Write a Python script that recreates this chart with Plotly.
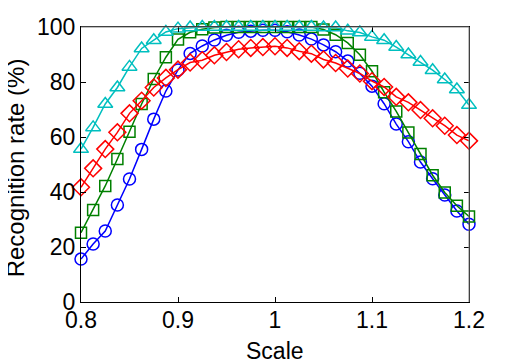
import plotly.graph_objects as go

scale = [round(0.8 + 0.0125 * k, 4) for k in range(33)]

blue = [15.6, 21.1, 25.8, 35.3, 44.7, 55.5, 66.5, 76.7, 84.4, 90.4, 93.1, 95.3, 97.0,
        98.1, 98.5, 98.8, 98.8, 98.3, 97.1, 95.6, 93.5, 91.0, 87.6, 83.2, 78.5, 72.1,
        64.7, 58.3, 50.9, 44.8, 38.9, 33.1, 28.3]
green = [25.2, 33.5, 42.2, 52.0, 61.9, 72.0, 81.1, 89.0, 95.5, 98.1, 99.2, 99.8, 100,
         100, 100, 100, 100, 100, 100, 100, 99.1, 97.2, 94.2, 89.9, 83.9, 76.3, 69.3,
         61.6, 53.8, 46.1, 39.8, 35.0, 31.1]
red = [41.7, 48.6, 55.6, 61.7, 68.6, 73.2, 78.0, 81.5, 84.5, 87.1, 87.9, 89.7, 90.9,
       91.9, 92.4, 92.7, 93.0, 92.4, 91.2, 90.3, 88.2, 86.9, 84.9, 83.1, 80.3, 78.2,
       74.6, 72.6, 69.8, 66.8, 64.1, 60.7, 58.6]
cyan = [55.6, 63.5, 72.0, 78.0, 85.5, 92.2, 95.2, 98.2, 99.4, 99.8, 100, 100, 100,
        100, 100, 100, 100, 100, 100, 100, 99.8, 99.8, 98.6, 98.0, 96.4, 95.2, 92.7,
        90.0, 87.3, 84.3, 80.9, 77.3, 71.6]

x_ticks = [0.8, 0.9, 1.0, 1.1, 1.2]
x_ticklabels = ["0.8", "0.9", "1", "1.1", "1.2"]
y_ticks = [0, 20, 40, 60, 80, 100]

series = [
    (blue, "rgb(0,0,255)", "circle-open", 12),
    (green, "rgb(0,128,0)", "square-open", 11),
    (red, "rgb(255,0,0)", "diamond-open", 13),
    (cyan, "rgb(0,191,191)", "triangle-up-open", 13),
]

fig = go.Figure()
for vals, col, sym, sz in series:
    fig.add_trace(go.Scatter(
        x=scale, y=vals, mode="lines+markers",
        line=dict(color=col, width=1.5),
        marker=dict(symbol=sym, size=sz, color=col, line=dict(color=col, width=1.5)),
        cliponaxis=False, showlegend=False,
    ))

font = dict(family="Liberation Sans, Arial, sans-serif", size=23, color="black")
font_y = dict(family="Liberation Sans, Arial, sans-serif", size=24, color="black")
fig.update_layout(
    width=510, height=353,
    margin=dict(l=73, r=49, t=19, b=59),
    plot_bgcolor="white", paper_bgcolor="white",
    font=font,
    xaxis=dict(range=[0.8, 1.2], tickvals=x_ticks, ticktext=x_ticklabels,
               showgrid=False, zeroline=False, showline=True, linecolor="black",
               linewidth=1, ticks="inside", ticklen=5, tickcolor="black",
               mirror="ticks", ticklabelstandoff=-3, automargin=False),
    yaxis=dict(range=[0, 100], tickvals=y_ticks,
               showgrid=False, zeroline=False, showline=True, linecolor="black",
               linewidth=1, ticks="inside", ticklen=5, tickcolor="black",
               mirror="ticks", ticklabelstandoff=0, automargin=False),
    shapes=[
        dict(type="line", xref="paper", yref="paper", x0=0, x1=1, y0=1, y1=1,
             line=dict(color="rgb(128,128,128)", width=1), layer="above"),
        dict(type="line", xref="paper", yref="paper", x0=1, x1=1, y0=0, y1=1,
             line=dict(color="rgb(128,128,128)", width=1), layer="above"),
    ],
    annotations=[
        dict(text="Scale", xref="paper", yref="paper", x=0.5, y=-0.178,
             xanchor="center", yanchor="middle", showarrow=False, font=font),
        dict(text="Recognition rate (%)", xref="paper", yref="paper",
             x=-0.168, y=0.489, textangle=-90,
             xanchor="center", yanchor="middle", showarrow=False, font=font_y),
    ],
)

fig.write_html("out.html")
